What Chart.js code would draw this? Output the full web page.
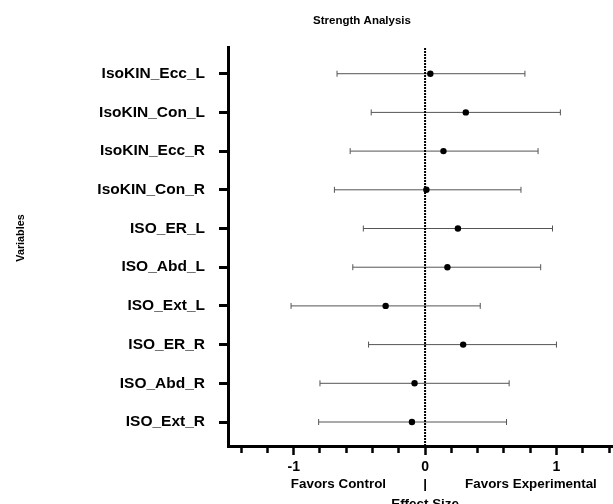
<!DOCTYPE html>
<html>
<head>
<meta charset="utf-8">
<title>Strength Analysis</title>
<script src="https://cdn.jsdelivr.net/npm/chart.js@4.4.0/dist/chart.umd.min.js"></script>
<style>
    html, body { margin: 0; padding: 0; background: #fff; overflow: hidden; }
    #wrap { width: 613px; height: 504px; position: relative; }
</style>
</head>
<body>
<div id="wrap"><canvas id="forestChart"></canvas></div>
<script>
const CHART_TITLE = "Strength Analysis";
const Y_TITLE = "Variables";
const X_TITLE = "Effect Size";
const LEFT_NOTE = "Favors Control";
const RIGHT_NOTE = "Favors Experimental";

// listed top to bottom, as in the plot
const variables = [
    "IsoKIN_Ecc_L", "IsoKIN_Con_L", "IsoKIN_Ecc_R", "IsoKIN_Con_R", "ISO_ER_L",
    "ISO_Abd_L", "ISO_Ext_L", "ISO_ER_R", "ISO_Abd_R", "ISO_Ext_R"
];
const effectSize = [0.04, 0.31, 0.14, 0.01, 0.25, 0.17, -0.30, 0.29, -0.08, -0.10];
const ciLower = [-0.67, -0.41, -0.57, -0.69, -0.47, -0.55, -1.02, -0.43, -0.80, -0.81];
const ciUpper = [0.76, 1.03, 0.86, 0.73, 0.97, 0.88, 0.42, 1.00, 0.64, 0.62];

const xTickValues = [-1.4, -1.2, -1, -0.8, -0.6, -0.4, -0.2, 0, 0.2, 0.4, 0.6, 0.8, 1, 1.2, 1.4];
const xMajorTicks = [-1, 0, 1];

const FONT = '"Liberation Sans", Arial, sans-serif';
const Y_MIN = 0.38;
const Y_MAX = 10.69;

// row 0 sits at the top
function rowPos(i) {
    return variables.length - i;
}

const pointData = effectSize.map((v, i) => ({ x: v, y: rowPos(i) }));

const capData = [];
const ciData = [];
variables.forEach((name, i) => {
    capData.push({ x: ciLower[i], y: rowPos(i) });
    capData.push({ x: ciUpper[i], y: rowPos(i) });
    ciData.push({ x: ciLower[i], y: rowPos(i) });
    ciData.push({ x: ciUpper[i], y: rowPos(i) });
    ciData.push({ x: null, y: null });
});


const annotationText = {
    id: "annotationText",
    afterDraw(chart) {
        const ctx = chart.ctx;
        const zeroX = chart.scales.x.getPixelForValue(0);

        ctx.save();
        ctx.fillStyle = "#000";
        ctx.textBaseline = "alphabetic";

        ctx.font = "bold 11.5px " + FONT;
        ctx.textAlign = "center";
        ctx.fillText(CHART_TITLE, 362, 23.5);

        ctx.font = "bold 13.4px " + FONT;
        ctx.textAlign = "right";
        ctx.fillText(LEFT_NOTE, zeroX - 39, 487.5);
        ctx.textAlign = "center";
        ctx.fillText("|", zeroX, 487.5);
        ctx.textAlign = "left";
        ctx.fillText(RIGHT_NOTE, zeroX + 40, 487.5);
        ctx.textAlign = "center";
        ctx.fillText(X_TITLE, zeroX, 508);

        ctx.font = "bold 10.8px " + FONT;
        ctx.translate(24, 238);
        ctx.rotate(-Math.PI / 2);
        ctx.textAlign = "center";
        ctx.fillText(Y_TITLE, 0, 0);
        ctx.restore();
    }
};


new Chart(document.getElementById("forestChart"), {
    type: "scatter",
    data: {
        datasets: [
            {
                label: "Effect size",
                data: pointData,
                pointRadius: 3.2,
                pointHoverRadius: 3.2,
                backgroundColor: "#000",
                borderColor: "#000",
                borderWidth: 0,
                order: 0
            },
            {
                label: "CI caps",
                data: capData,
                pointStyle: "line",
                rotation: 90,
                pointRadius: 3,
                borderColor: "#555",
                borderWidth: 1,
                order: 1
            },
            {
                type: "line",
                label: "Zero",
                data: [{ x: 0, y: Y_MIN }, { x: 0, y: Y_MAX }],
                borderColor: "#000",
                borderWidth: 2,
                borderDash: [2, 1],
                pointRadius: 0,
                order: 2
            },
            {
                type: "line",
                label: "95% CI",
                data: ciData,
                borderColor: "#555",
                borderWidth: 1,
                pointRadius: 0,
                spanGaps: false,
                order: 3
            }
        ]
    },
    options: {
        responsive: true,
        maintainAspectRatio: false,
        animation: false,
        layout: {
            autoPadding: false,
            padding: { top: 47, right: 0, bottom: 0, left: 0 }
        },
        plugins: {
            legend: { display: false },
            tooltip: { enabled: false },
            title: { display: false }
        },
        scales: {
            x: {
                type: "linear",
                position: "bottom",
                min: -1.5,
                max: 1.43,
                afterBuildTicks: scale => {
                    scale.ticks = xTickValues.map(v => ({ value: v }));
                },
                afterFit: scale => {
                    scale.height = 58;
                },
                ticks: {
                    autoSkip: false,
                    maxRotation: 0,
                    padding: 4,
                    color: "#000",
                    font: { family: FONT, size: 14, weight: "bold" },
                    callback: value => xMajorTicks.includes(value) ? String(value) : ""
                },
                grid: {
                    drawOnChartArea: false,
                    drawTicks: true,
                    tickLength: 9,
                    tickWidth: 2.5,
                    tickColor: "#000",
                    tickBorderDash: ctx => xMajorTicks.includes(ctx.tick.value) ? [] : [5, 100]
                },
                border: { color: "#000", width: 3 }
            },
            y: {
                type: "linear",
                min: Y_MIN,
                max: Y_MAX,
                afterBuildTicks: scale => {
                    scale.ticks = variables.map((name, i) => ({ value: rowPos(i) }));
                },
                afterFit: scale => {
                    scale.width = 228;
                },
                ticks: {
                    autoSkip: false,
                    padding: 14,
                    color: "#000",
                    font: { family: FONT, size: 15.5, weight: "bold" },
                    callback: value => variables[variables.length - value]
                },
                grid: {
                    drawOnChartArea: false,
                    drawTicks: true,
                    tickLength: 9,
                    tickWidth: 3,
                    tickColor: "#000"
                },
                border: { color: "#000", width: 3 }
            }
        }
    },
    plugins: [annotationText]
});
</script>
</body>
</html>
